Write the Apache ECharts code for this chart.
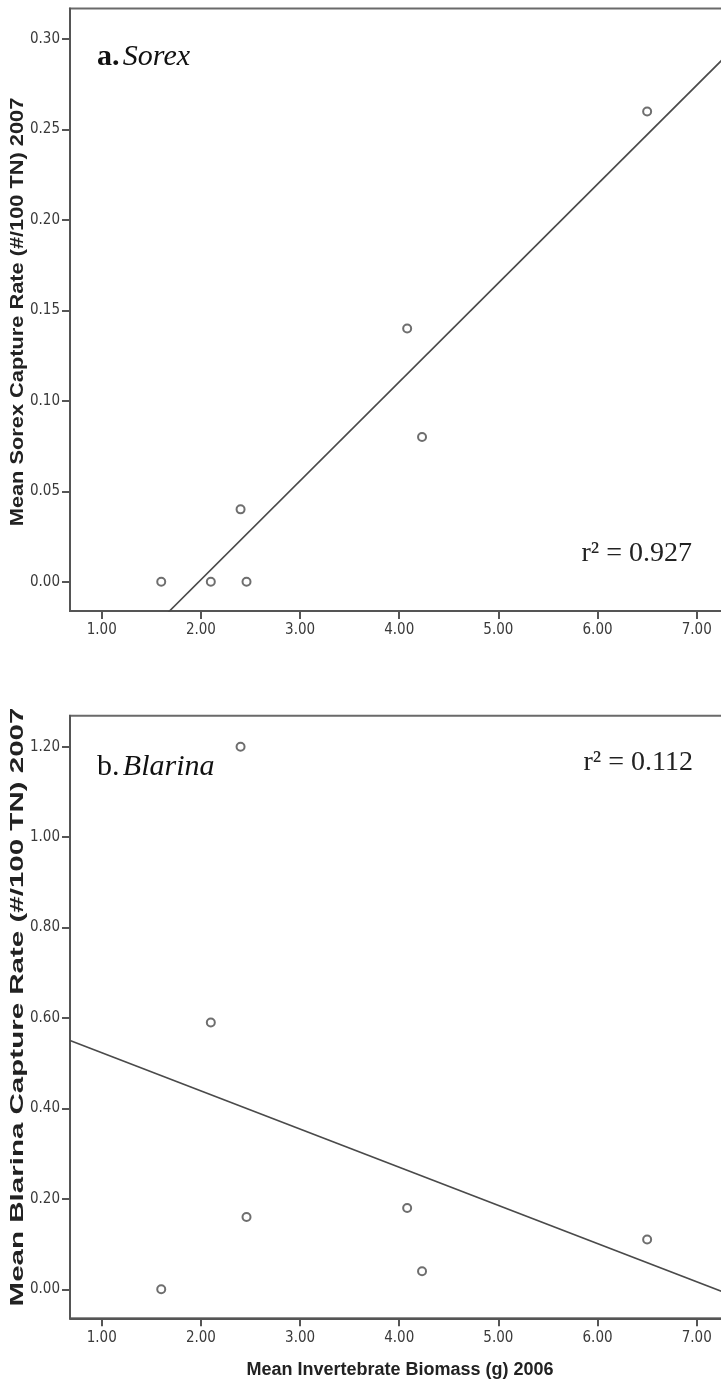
<!DOCTYPE html>
<html>
<head>
<meta charset="utf-8">
<title>Shrew capture rate vs invertebrate biomass</title>
<script src="https://cdn.jsdelivr.net/npm/echarts@6/dist/echarts.min.js"></script>
<style>
  html, body { margin: 0; padding: 0; background: #ffffff; }
  #chart { width: 721px; height: 1384px; }
</style>
</head>
<body>
<div id="chart"></div>
<script>
// Mean invertebrate biomass (g) 2006 per site
const biomass = [1.60, 2.10, 2.40, 2.46, 4.08, 4.23, 6.50];
// Mean capture rates (#/100 TN) 2007 at the same sites
const sorexRate = [0.00, 0.00, 0.04, 0.00, 0.14, 0.08, 0.26];
const blarinaRate = [0.00, 0.59, 1.20, 0.16, 0.18, 0.04, 0.11];

// Tick positions
const xTicks = [1, 2, 3, 4, 5, 6, 7];
const sorexTicks = [0.00, 0.05, 0.10, 0.15, 0.20, 0.25, 0.30];
const blarinaTicks = [0.00, 0.20, 0.40, 0.60, 0.80, 1.00, 1.20];

// Panel annotations
const panelNames = ['Sorex', 'Blarina'];
const panelLetters = ['a.', 'b.'];
const rSquared = ['0.927', '0.112'];

// Ordinary least-squares fit of y on x
function leastSquares(xs, ys) {
  const n = xs.length;
  const mx = xs.reduce((s, v) => s + v, 0) / n;
  const my = ys.reduce((s, v) => s + v, 0) / n;
  let sxy = 0, sxx = 0;
  for (let i = 0; i < n; i++) {
    sxy += (xs[i] - mx) * (ys[i] - my);
    sxx += (xs[i] - mx) * (xs[i] - mx);
  }
  const slope = sxy / sxx;
  return { slope, intercept: my - slope * mx };
}

// The plot frame runs past the right edge of the page
const X_MIN = 0.68, X_MAX = 7.4465;
const yRanges = [[-0.0162, 0.3169], [-0.0641, 1.2685]];
const yTicks = [sorexTicks, blarinaTicks];
const rates = [sorexRate, blarinaRate];

const axisColor = '#555555';
const tickFont = { color: '#3a3a3a', fontSize: 15, fontFamily: 'Liberation Sans Narrow, Arial Narrow, DejaVu Sans Condensed, sans-serif' };

const grids = [
  { left: 70, width: 671, top: 8.5, height: 602.5 },
  { left: 70, width: 671, top: 715.7, height: 602.6 }
].map(g => Object.assign(g, {
  show: true, borderColor: '#6a6a6a', borderWidth: 2, backgroundColor: 'transparent',
  containLabel: false, outerBoundsMode: 'none'
}));

const xAxes = [0, 1].map(i => ({
  type: 'value', gridIndex: i, min: X_MIN, max: X_MAX,
  axisLine: { show: true, onZero: false, lineStyle: { color: axisColor, width: 2 } },
  axisTick: { show: true, length: 8, lineStyle: { color: axisColor, width: 2 }, customValues: xTicks },
  axisLabel: Object.assign({ margin: 12, customValues: xTicks, formatter: v => v.toFixed(2) }, tickFont),
  splitLine: { show: false }
}));

const yAxes = [0, 1].map(i => ({
  type: 'value', gridIndex: i, min: yRanges[i][0], max: yRanges[i][1],
  axisLine: { show: true, onZero: false, lineStyle: { color: axisColor, width: 2 } },
  axisTick: { show: true, length: 8, lineStyle: { color: axisColor, width: 2 }, customValues: yTicks[i] },
  axisLabel: Object.assign({ margin: 10, customValues: yTicks[i], formatter: v => v.toFixed(2) }, tickFont),
  splitLine: { show: false }
}));

const series = [];
[0, 1].forEach(i => {
  const f = leastSquares(biomass, rates[i]);
  series.push({
    type: 'line', xAxisIndex: i, yAxisIndex: i, clip: true, silent: true,
    symbol: 'none', z: 2,
    lineStyle: { color: '#4a4a4a', width: 1.6 },
    data: [[X_MIN, f.intercept + f.slope * X_MIN], [X_MAX, f.intercept + f.slope * X_MAX]]
  });
  series.push({
    type: 'scatter', xAxisIndex: i, yAxisIndex: i, z: 3,
    symbol: 'emptyCircle', symbolSize: 8,
    itemStyle: { color: '#4a4a4a', borderColor: '#4a4a4a', borderWidth: 1.5 },
    data: biomass.map((x, k) => [x, rates[i][k]])
  });
});

const serif = 'Liberation Serif, Times New Roman, serif';
const sans = 'Liberation Sans, Arial, sans-serif';
const titleStyle = { fontFamily: sans, fontWeight: 'bold', fontSize: 18, fill: '#222', align: 'center', verticalAlign: 'middle' };

const graphic = [
  // panel labels
  {
    type: 'text', left: 97, top: 42,
    style: {
      text: '{l|' + panelLetters[0] + '} {n|' + panelNames[0] + '}',
      rich: {
        l: { fontFamily: serif, fontWeight: 'bold', fontSize: 30, fill: '#111' },
        n: { fontFamily: serif, fontStyle: 'italic', fontSize: 30, fill: '#111' }
      }
    }
  },
  {
    type: 'text', left: 97, top: 752,
    style: {
      text: '{l|' + panelLetters[1] + '} {n|' + panelNames[1] + '}',
      rich: {
        l: { fontFamily: serif, fontSize: 30, fill: '#111' },
        n: { fontFamily: serif, fontStyle: 'italic', fontSize: 30, fill: '#111' }
      }
    }
  },
  // r-squared annotations
  {
    type: 'text', x: 692, y: 554,
    style: { text: 'r\u00B2 = ' + rSquared[0], fontFamily: serif, fontSize: 28, fill: '#222', align: 'right', verticalAlign: 'middle' }
  },
  {
    type: 'text', x: 693, y: 763,
    style: { text: 'r\u00B2 = ' + rSquared[1], fontFamily: serif, fontSize: 28, fill: '#222', align: 'right', verticalAlign: 'middle' }
  },
  // axis titles (stretched along their length)
  {
    type: 'text', x: 18, y: 312, rotation: Math.PI / 2, scaleX: 1.21,
    style: Object.assign({ text: 'Mean Sorex Capture Rate (#/100 TN) 2007' }, titleStyle)
  },
  {
    type: 'text', x: 18, y: 1007, rotation: Math.PI / 2, scaleX: 1.64,
    style: Object.assign({ text: 'Mean Blarina Capture Rate (#/100 TN) 2007' }, titleStyle)
  },
  {
    type: 'text', x: 400, y: 1370,
    style: Object.assign({ text: 'Mean Invertebrate Biomass (g) 2006' }, titleStyle)
  }
];

const chart = echarts.init(document.getElementById('chart'), null, { renderer: 'canvas' });
chart.setOption({
  animation: false,
  backgroundColor: '#ffffff',
  grid: grids,
  xAxis: xAxes,
  yAxis: yAxes,
  series: series,
  graphic: graphic
});
</script>
</body>
</html>
